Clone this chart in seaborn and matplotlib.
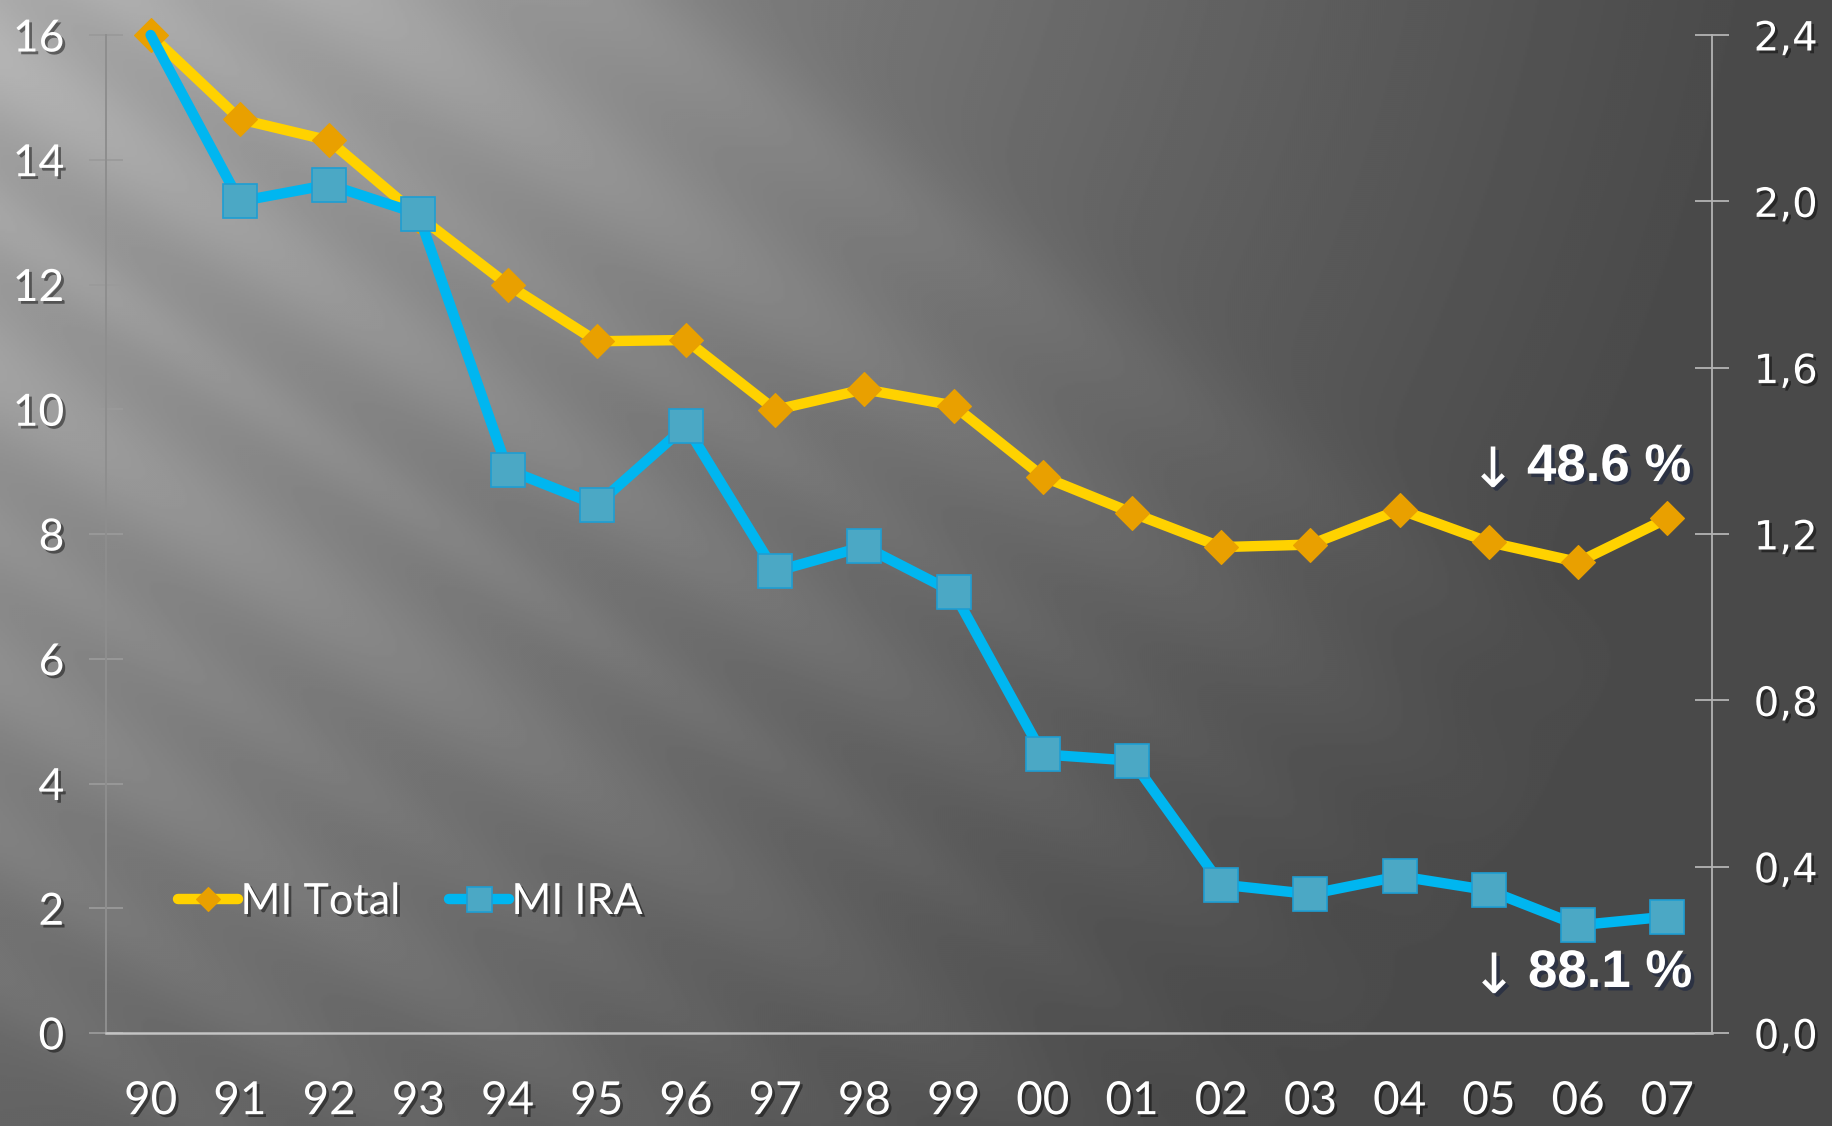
import numpy as np
import pandas as pd
import matplotlib
matplotlib.use("Agg")
import matplotlib.pyplot as plt
from matplotlib import patheffects as pe
import seaborn as sns

# ---- data -------------------------------------------------------------
years = ["90", "91", "92", "93", "94", "95", "96", "97", "98",
         "99", "00", "01", "02", "03", "04", "05", "06", "07"]
mi_total = [16.0, 14.65, 14.31, 13.1, 12.0, 11.09, 11.11, 9.99, 10.32,
            10.06, 8.92, 8.34, 7.79, 7.83, 8.39, 7.87, 7.55, 8.25]
mi_ira = [2.40, 2.00, 2.04, 1.97, 1.355, 1.27, 1.46, 1.11, 1.17,
          1.06, 0.67, 0.655, 0.357, 0.334, 0.377, 0.343, 0.259, 0.28]
left_ticks = [0, 2, 4, 6, 8, 10, 12, 14, 16]
right_ticks = [0.0, 0.4, 0.8, 1.2, 1.6, 2.0, 2.4]
right_labels = ["0,0", "0,4", "0,8", "1,2", "1,6", "2,0", "2,4"]
series_names = ["MI Total", "MI IRA"]
drop_total = "48.6 %"
drop_ira = "88.1 %"

df = pd.DataFrame({"pos": np.arange(len(years)), "year": years,
                   "total": mi_total, "ira": mi_ira})

# ---- style ------------------------------------------------------------
sns.set_theme(style="white")
plt.rcParams["font.family"] = ["Lato", "DejaVu Sans"]

W_PX, H_PX = 1832, 1126
fig = plt.figure(figsize=(W_PX / 100, H_PX / 100), dpi=100)

# grey backdrop: soft light from the upper left, crossed by diagonal streaks
h, w = H_PX // 2, W_PX // 2
Y, X = np.mgrid[0:H_PX:h * 1j, 0:W_PX:w * 1j]
sx, sy = -300.0, -400.0
r = np.hypot(X - sx, Y - sy)
f = np.clip(1 - (r - 450) / 1650, 0, 1)
img = 0.29 + 0.35 * f ** 1.15
streak_strength = np.clip(1 - (r - 450) / 1750, 0, 1) ** 0.6
s = Y - 0.7 * X
for c, width, amp in [(-420, 70, 0.08), (-250, 90, 0.11), (-90, 50, 0.07),
                      (60, 70, 0.09), (220, 45, 0.07), (380, 80, 0.10),
                      (540, 50, 0.07), (680, 75, 0.10), (840, 60, 0.08),
                      (980, 50, 0.06)]:
    img += amp * streak_strength * np.exp(-((s - c) / width) ** 2)
img = np.clip(img, 0, 1)

bg = fig.add_axes([0, 0, 1, 1], zorder=0)
bg.imshow(img, extent=[0, 1, 0, 1], aspect="auto", cmap="gray",
          vmin=0, vmax=1, interpolation="bilinear")
bg.axis("off")

L, R, T, B = 106, 1712, 35, 1033
ax = fig.add_axes([L / W_PX, 1 - B / H_PX, (R - L) / W_PX, (B - T) / H_PX],
                  zorder=1)
ax.patch.set_alpha(0)
ax2 = ax.twinx()
ax2.patch.set_alpha(0)

YELLOW, ORANGE = "#FFD200", "#E9A000"
BLUE, TEAL, TEAL_EDGE = "#00B6F0", "#4BA8C5", "#1E9ED3"

sns.lineplot(data=df, x="pos", y="total", ax=ax, color=YELLOW,
             linewidth=7.5, marker="D", markersize=17,
             markerfacecolor=ORANGE, markeredgecolor=ORANGE,
             markeredgewidth=0.8, label=series_names[0], legend=False,
             solid_capstyle="round", clip_on=False)
sns.lineplot(data=df, x="pos", y="ira", ax=ax2, color=BLUE,
             linewidth=7.5, marker="s", markersize=25,
             markerfacecolor=TEAL, markeredgecolor=TEAL_EDGE,
             markeredgewidth=1.2, label=series_names[1], legend=False,
             solid_capstyle="round", clip_on=False,
             markevery=list(range(1, len(years))))

ax.set_xlim(-0.5, len(years) - 0.5)
ax.set_ylim(0, 16)
ax2.set_ylim(0, 2.4)
ax.set_xlabel("")
ax.set_ylabel("")
ax2.set_ylabel("")

shadow = [pe.SimplePatchShadow(offset=(2, -2), shadow_rgbFace="black",
                               alpha=0.45), pe.Normal()]

# x axis: labels at category centres, ticks at category boundaries
ax.set_xticks(df["pos"])
ax.set_xticklabels(years, fontsize=33, color="white")
ax.set_xticks(np.arange(-0.5, len(years), 1), minor=True)
ax.tick_params(axis="x", which="major", length=0, pad=34)
ax.tick_params(axis="x", which="minor", direction="inout", length=23,
               width=1.3, color="#c8c8c8")

ax.set_yticks(left_ticks)
ax.set_yticklabels([str(v) for v in left_ticks], fontsize=32, color="white")
ax.tick_params(axis="y", which="major", direction="inout", length=24,
               width=1.3, color="#9a9a9a", pad=18, left=True)

ax2.set_yticks(right_ticks)
ax2.set_yticklabels(right_labels, fontsize=29, color="white",
                    fontfamily="DejaVu Sans")
ax2.tick_params(axis="y", which="major", direction="inout", length=24,
                width=1.3, color="#b4b4b4", pad=18, right=True)

for sp in ["top", "right"]:
    ax.spines[sp].set_visible(False)
for sp in ["top", "left", "bottom"]:
    ax2.spines[sp].set_visible(False)
ax.spines["left"].set_color("#8e8e8e")
ax.spines["left"].set_linewidth(1.4)
ax.spines["bottom"].set_color("#c4c4c4")
ax.spines["bottom"].set_linewidth(1.8)
ax2.spines["right"].set_color("#b4b4b4")
ax2.spines["right"].set_linewidth(1.3)

for lbl in ax.get_xticklabels() + ax.get_yticklabels() + ax2.get_yticklabels():
    lbl.set_path_effects(shadow)

# legend
handles = ax.get_lines()[:1] + ax2.get_lines()[:1]
leg = fig.legend(handles, series_names, loc="center left",
                 bbox_to_anchor=(178 / W_PX, 1 - 902 / H_PX), ncol=2,
                 frameon=False, fontsize=31, handlelength=1.4,
                 handletextpad=0.05, columnspacing=1.15, markerscale=0.72,
                 borderpad=0, borderaxespad=0, labelcolor="white")
for txt in leg.get_texts():
    txt.set_path_effects(shadow)

# percentage drop callouts
callout_shadow = [pe.SimplePatchShadow(offset=(2.5, -2.5),
                                       shadow_rgbFace="#1a2440", alpha=0.6),
                  pe.Normal()]
note_fx = dict(color="white", fontweight="bold", fontsize=38,
               family=["Liberation Sans", "DejaVu Sans"], ha="left",
               va="center", path_effects=callout_shadow)
arrow_fx = dict(color="white", fontsize=40, family=["DejaVu Sans"],
                ha="center", va="center", path_effects=callout_shadow)
fig.text(1527 / W_PX, 1 - 467 / H_PX, drop_total, **note_fx)
fig.text(1493 / W_PX, 1 - 472 / H_PX, "\u2193", **arrow_fx)
fig.text(1528 / W_PX, 1 - 973 / H_PX, drop_ira, **note_fx)
fig.text(1494 / W_PX, 1 - 978 / H_PX, "\u2193", **arrow_fx)

fig.savefig("out.png", dpi=100)
